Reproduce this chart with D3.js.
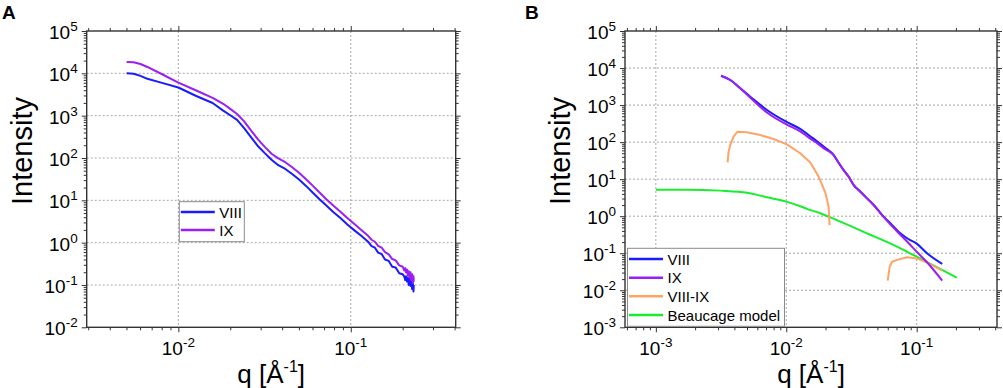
<!DOCTYPE html>
<html>
<head>
<meta charset="utf-8">
<script src="https://cdn.jsdelivr.net/npm/d3@7"></script>
<style>
body { margin: 0; background: #fff; }
svg { font-family: "Liberation Sans", Arial, sans-serif; }
</style>
</head>
<body>
<script>
// panel A: scattering curves of VIII and IX
var qA = [0.00501, 0.0055, 0.00603, 0.00661, 0.00794, 0.01, 0.0126, 0.0158, 0.0182, 0.02,
          0.0219, 0.024, 0.0263, 0.0288, 0.0316, 0.0347, 0.038, 0.0417, 0.0457, 0.0501,
          0.055, 0.0603, 0.0661, 0.0724, 0.0794, 0.0871, 0.0955, 0.105, 0.115, 0.126,
          0.132, 0.138, 0.144, 0.151, 0.158, 0.166, 0.174, 0.182, 0.191, 0.2,
          0.204, 0.207, 0.209, 0.212, 0.214, 0.217, 0.219, 0.222, 0.224, 0.227, 0.229, 0.231, 0.232];
var viiiA = [10000, 9772, 8710, 7413, 6026, 4624, 2951, 1995, 1318, 1023,
             794, 513, 316, 195, 132, 91.2, 67.6, 55.0, 41.7, 30.9,
             21.9, 15.1, 10.5, 7.41, 5.25, 3.80, 2.69, 1.95, 1.45, 1.05,
             0.83, 0.76, 0.58, 0.54, 0.40, 0.37, 0.27, 0.26, 0.19, 0.18,
             0.16, 0.13, 0.16, 0.12, 0.15, 0.10, 0.14, 0.095, 0.13, 0.08, 0.12, 0.07, 0.10];
var ixA = [18620, 18200, 16600, 14130, 9772, 6026, 3981, 2630, 1905, 1445,
           1096, 741, 457, 282, 186, 126, 97.7, 79.4, 60.3, 44.7,
           31.6, 21.9, 15.1, 10.5, 7.41, 5.37, 3.80, 2.75, 2.00, 1.45,
           1.17, 1.05, 0.84, 0.76, 0.60, 0.53, 0.41, 0.38, 0.29, 0.27,
           0.22, 0.25, 0.20, 0.23, 0.17, 0.21, 0.15, 0.20, 0.13, 0.18, 0.11, 0.16, 0.12];

// panel B: desmeared curves, their difference and the Beaucage model
var qB = [0.00316, 0.00372, 0.00444, 0.0053, 0.00711, 0.01, 0.0126, 0.0158, 0.0174, 0.02,
          0.0231, 0.0252, 0.0275, 0.0301, 0.0329, 0.037, 0.0416, 0.0468, 0.0558, 0.0628,
          0.075, 0.0869, 0.1, 0.12, 0.157];
var viiiB = [6209, 4753, 2838, 1683, 736, 355, 234, 132, 102, 69.2,
             44.7, 27.8, 17.8, 11.6, 6.92, 4.59, 3.02, 2.0, 0.977, 0.646,
             0.347, 0.238, 0.182, 0.1, 0.0513];
var ixB = [6209, 4753, 2838, 1585, 631, 302, 200, 115, 91.2, 63.1,
           44.7, 27.8, 17.4, 11.6, 6.92, 4.59, 3.02, 2.0, 0.955, 0.60,
           0.316, 0.186, 0.110, 0.057, 0.0182];
// null = difference below zero, not drawn on the log axis
var qDiff = [0.00355, 0.00361, 0.00372, 0.00394, 0.00423, 0.00499, 0.00631, 0.008, 0.0101, 0.0128,
             0.0153, 0.0177, 0.02, 0.0211, 0.0215, 0.04, 0.06, 0.0621, 0.0648, 0.0708,
             0.0843, 0.1, 0.12, 0.157];
var diffB = [28.5, 55, 83, 141, 191, 184, 155, 121, 87, 50,
             28, 11.7, 4.17, 1.81, 0.575, null, 0.0182, 0.0437, 0.0589, 0.0661,
             0.0776, 0.0724, 0.0556, 0.0339];
var qModel = [0.001, 0.00173, 0.00311, 0.00501, 0.00711, 0.01, 0.0128, 0.0144, 0.0182, 0.0211,
              0.0416, 0.075, 0.1, 0.204];
var modelB = [5.2, 5.2, 4.9, 4.3, 3.24, 2.47, 1.85, 1.58, 1.2, 0.97,
              0.345, 0.136, 0.0807, 0.0219];

// tick labels
var xTicksA = [0.01, 0.1],
    yTicksA = [1e-2, 1e-1, 1e0, 1e1, 1e2, 1e3, 1e4, 1e5],
    xTicksB = [0.001, 0.01, 0.1],
    yTicksB = [1e-3, 1e-2, 1e-1, 1e0, 1e1, 1e2, 1e3, 1e4, 1e5];

var colorVIII = "#1a1aff",
    colorIX = "#9b1ff2",
    colorDiff = "#ffa366",
    colorModel = "#18ee2e",
    frameColor = "#333";

window.onload = function() {
    var svg = d3.select("body").append("svg")
                .attr("width", 1003)
                .attr("height", 388);

    // panel A
    var a = makeFrame(svg, {left: 86.7, right: 455.7, top: 31, bottom: 327.3,
                            xDomain: [0.00294, 0.406], yDomain: [1e-2, 1e5],
                            xTicks: xTicksA, yTicks: yTicksA});
    drawLine(a, qA, viiiA, colorVIII, false);
    drawLine(a, qA, ixA, colorIX, false);
    drawBorder(a);
    drawLegend(svg, {x: 179.3, y: 201.7, w: 65, h: 40, rowY: [212, 230]},
               ["VIII", "IX"], [colorVIII, colorIX]);
    panelLetter(svg, "A", 2);

    // panel B
    var b = makeFrame(svg, {left: 625, right: 997, top: 31, bottom: 327.3,
                            xDomain: [0.00058, 0.413], yDomain: [1e-3, 1e5],
                            xTicks: xTicksB, yTicks: yTicksB});
    drawLine(b, qModel, modelB, colorModel, true);
    drawLine(b, qDiff, diffB, colorDiff, false);
    drawLine(b, qB, viiiB, colorVIII, true);
    drawLine(b, qB, ixB, colorIX, true);
    drawBorder(b);
    drawLegend(svg, {x: 627.5, y: 248.3, w: 157, h: 78, rowY: [259, 277.7, 296.3, 315]},
               ["VIII", "IX", "VIII-IX", "Beaucage model"],
               [colorVIII, colorIX, colorDiff, colorModel]);
    panelLetter(svg, "B", 525);
};

/*
 * Make scales, grid, ticks, tick labels and axis titles of one panel.
 */
function makeFrame(svg, p)
{
    var g = svg.append("g");
    var x = d3.scaleLog().domain(p.xDomain).range([p.left, p.right]);
    var y = d3.scaleLog().domain(p.yDomain).range([p.bottom, p.top]);

    var isMajor = function(d) {
        var l = Math.log10(d);
        return Math.abs(l - Math.round(l)) < 1e-6;
    };
    var xMinor = x.ticks().filter(function(d) { return !isMajor(d); }),
        yMinor = y.ticks().filter(function(d) { return !isMajor(d); });

    // dotted grid at the decades
    g.selectAll(".gx").data(p.xTicks).enter().append("line")
        .attr("x1", function(d) { return x(d); })
        .attr("x2", function(d) { return x(d); })
        .attr("y1", p.top).attr("y2", p.bottom)
        .attr("stroke", "#a8a8a8").attr("stroke-width", 1)
        .attr("stroke-dasharray", "2,2");
    g.selectAll(".gy").data(p.yTicks.slice(1, -1)).enter().append("line")
        .attr("y1", function(d) { return y(d); })
        .attr("y2", function(d) { return y(d); })
        .attr("x1", p.left).attr("x2", p.right)
        .attr("stroke", "#a8a8a8").attr("stroke-width", 1)
        .attr("stroke-dasharray", "2,2");

    // ticks on all four sides, pointing out
    var sides = [[d3.axisBottom, x, "translate(0," + p.bottom + ")", p.xTicks, xMinor],
                 [d3.axisTop, x, "translate(0," + p.top + ")", p.xTicks, xMinor],
                 [d3.axisLeft, y, "translate(" + p.left + ",0)", p.yTicks, yMinor],
                 [d3.axisRight, y, "translate(" + p.right + ",0)", p.yTicks, yMinor]];
    sides.forEach(function(s) {
        [[s[3], 5], [s[4], 3]].forEach(function(t) {
            g.append("g")
                .attr("transform", s[2])
                .attr("color", frameColor)
                .call(s[0](s[1]).tickValues(t[0]).tickSize(t[1]).tickFormat(""))
                .call(function(ax) { ax.select(".domain").remove(); });
        });
    });

    // tick labels as 10 with exponent
    g.selectAll(".xl").data(p.xTicks).enter().append("text")
        .attr("x", function(d) { return x(d); })
        .attr("y", p.bottom + 28)
        .attr("text-anchor", "middle")
        .style("font-size", "19px")
        .each(function(d) { powerLabel(d3.select(this), d); });
    g.selectAll(".yl").data(p.yTicks).enter().append("text")
        .attr("x", p.left - 9)
        .attr("y", function(d) { return y(d) + 8; })
        .attr("text-anchor", "end")
        .style("font-size", "19px")
        .each(function(d) { powerLabel(d3.select(this), d); });

    // axis titles
    var xt = g.append("text")
        .attr("x", (p.left + p.right) / 2)
        .attr("y", 382.5)
        .attr("text-anchor", "middle")
        .style("font-size", "26px");
    xt.append("tspan").text("q [Å");
    xt.append("tspan").attr("dy", -11).style("font-size", "16px").text("-1");
    xt.append("tspan").attr("dy", 11).text("]");

    g.append("text")
        .attr("transform", "translate(" + (p.left - 55) + ",151) rotate(-90)")
        .attr("text-anchor", "middle")
        .style("font-size", "29px")
        .text("Intensity");

    return {g: g, x: x, y: y, p: p};
}

/*
 * Write 10 with a raised exponent into a text element.
 */
function powerLabel(t, d)
{
    t.append("tspan").text("10");
    t.append("tspan")
        .attr("dy", -8)
        .style("font-size", "13.5px")
        .text(Math.round(Math.log10(d)));
}

/*
 * Draw one curve, skipping the points without a value.
 */
function drawLine(panel, xs, ys, color, smooth)
{
    var data = xs.map(function(q, i) { return {q: q, v: ys[i]}; });
    var line = d3.line()
        .defined(function(d) { return d.v != null; })
        .x(function(d) { return panel.x(d.q); })
        .y(function(d) { return panel.y(d.v); });
    if (smooth) line.curve(d3.curveMonotoneX);

    panel.g.append("path")
        .datum(data)
        .attr("d", line)
        .attr("fill", "none")
        .attr("stroke", color)
        .attr("stroke-width", 2)
        .attr("stroke-linejoin", "round");
}

/*
 * Box around the plot area.
 */
function drawBorder(panel)
{
    var p = panel.p;
    panel.g.append("rect")
        .attr("x", p.left).attr("y", p.top)
        .attr("width", p.right - p.left)
        .attr("height", p.bottom - p.top)
        .attr("fill", "none")
        .attr("stroke", frameColor)
        .attr("stroke-width", 1.4);
}

/*
 * Legend box with a short line and a name per series.
 */
function drawLegend(svg, box, names, colors)
{
    var g = svg.append("g");
    g.append("rect")
        .attr("x", box.x).attr("y", box.y)
        .attr("width", box.w).attr("height", box.h)
        .attr("fill", "#fff")
        .attr("stroke", "#8a8a8a")
        .attr("stroke-width", 1);

    var rows = g.selectAll(".row").data(names).enter().append("g")
        .attr("transform", function(d, i) { return "translate(" + box.x + "," + box.rowY[i] + ")"; });
    rows.append("line")
        .attr("x1", 1.5).attr("x2", 35.5)
        .attr("stroke", function(d, i) { return colors[i]; })
        .attr("stroke-width", 2.5);
    rows.append("text")
        .attr("x", 40)
        .attr("y", 5.5)
        .style("font-size", "15px")
        .text(function(d) { return d; });
}

/*
 * Bold panel letter in the top left corner.
 */
function panelLetter(svg, letter, x)
{
    svg.append("text")
        .attr("x", x)
        .attr("y", 18.5)
        .style("font-size", "19px")
        .style("font-weight", "bold")
        .text(letter);
}
</script>
</body>
</html>
